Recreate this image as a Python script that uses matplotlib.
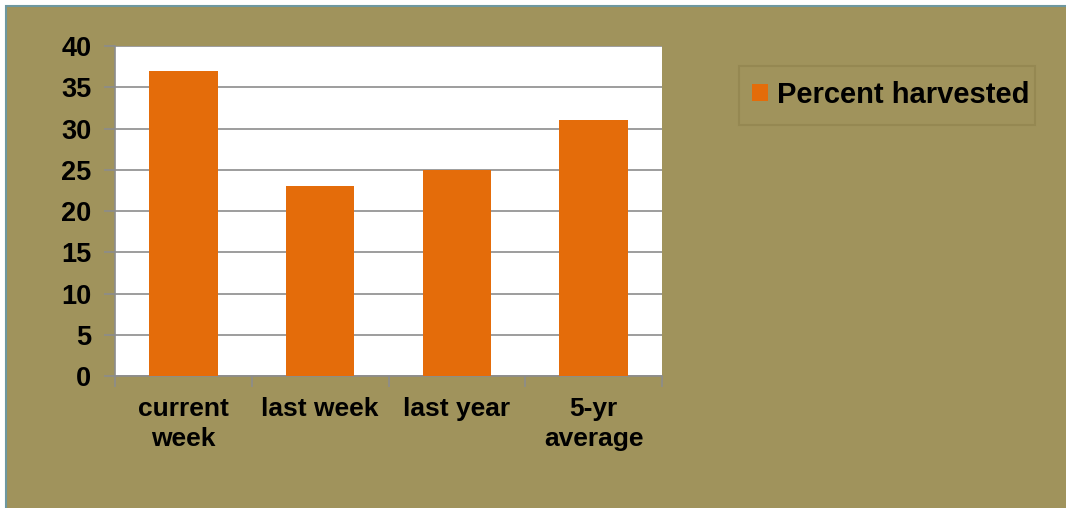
import matplotlib
matplotlib.use("Agg")
import matplotlib.pyplot as plt
from matplotlib.patches import Rectangle, Patch

# data
categories = ["current\nweek", "last week", "last year", "5-yr\naverage"]
percent_harvested = [37, 23, 25, 31]
y_ticks = [0, 5, 10, 15, 20, 25, 30, 35, 40]

OLIVE = "#A0935C"
ORANGE = "#E46C0A"
GRID = "#8C8C8C"

plt.rcParams["font.family"] = ["Liberation Sans", "DejaVu Sans"]
plt.rcParams["font.weight"] = "bold"

W, H = 1066, 508
fig = plt.figure(figsize=(W / 100, H / 100), dpi=100, facecolor="white")

# olive chart area with the thin blue-grey frame
fig.patches.append(Rectangle((5.5 / W, -0.01), 1.02, (H - 5.5) / H + 0.01,
                             transform=fig.transFigure, facecolor=OLIVE,
                             edgecolor="#6E98A0", linewidth=1.5, zorder=-10))

ax = fig.add_axes([115 / W, 1 - 376 / H, (662 - 115) / W, (376 - 46) / H])
ax.set_facecolor("white")

x = list(range(len(categories)))
bars = ax.bar(x, percent_harvested, width=0.5, color=ORANGE, zorder=3)

ax.set_xlim(-0.5, len(categories) - 0.5)
ax.set_ylim(0, 40)
ax.set_yticks(y_ticks)
ax.yaxis.grid(True, color=GRID, linewidth=1.2, zorder=1)
ax.set_axisbelow(True)

ax.set_xticks(x)
ax.set_xticklabels(categories, fontsize=19, fontweight="bold", linespacing=1.3)
ax.set_xticks([i - 0.5 for i in range(len(categories) + 1)], minor=True)
ax.tick_params(axis="x", which="major", length=0, pad=15)
ax.tick_params(axis="x", which="minor", length=8, color=GRID, width=1.2)
ax.tick_params(axis="y", length=8, color=GRID, width=1.2, labelsize=19.5, pad=9)
for lab in ax.get_yticklabels():
    lab.set_fontweight("bold")

for side in ["top", "right"]:
    ax.spines[side].set_visible(False)
for side in ["left", "bottom"]:
    ax.spines[side].set_color(GRID)
    ax.spines[side].set_linewidth(1.2)

# legend, frame drawn separately so the padding matches
handle = Patch(facecolor=ORANGE, edgecolor="none", label="Percent harvested")
leg = fig.legend(handles=[handle], loc="upper left",
                 bbox_to_anchor=(746 / W, 1 - 75 / H),
                 prop={"size": 21, "weight": "bold"},
                 frameon=False,
                 handlelength=0.55, handleheight=0.55, handletextpad=0.3,
                 borderpad=0.2, borderaxespad=0)
fig.patches.append(Rectangle((738.5 / W, 1 - 124.5 / H), 296 / W, 59 / H,
                             transform=fig.transFigure, facecolor="none",
                             edgecolor="#958852", linewidth=1.5, zorder=-5))

fig.savefig("out.png", dpi=100, facecolor=fig.get_facecolor())
